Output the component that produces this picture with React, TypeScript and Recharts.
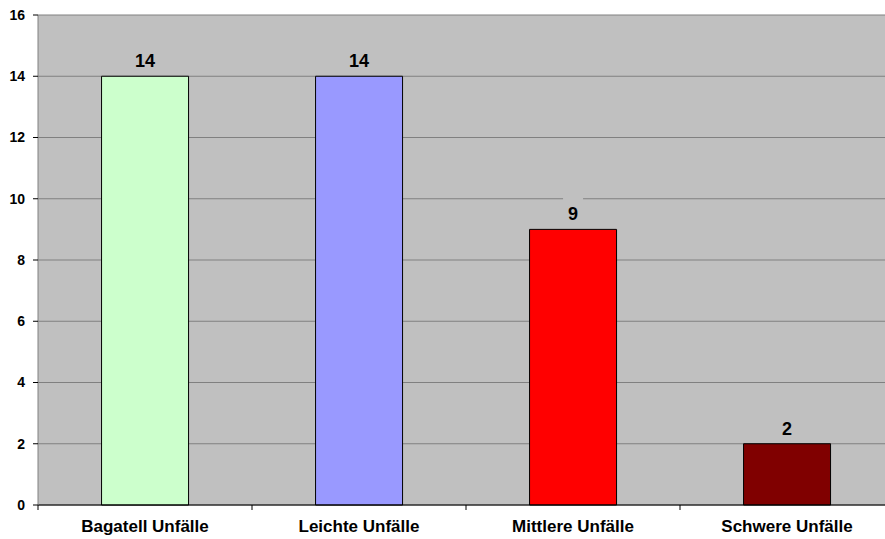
import { BarChart, Bar, XAxis, YAxis, CartesianGrid, Cell, LabelList } from "recharts";

const categories = ["Bagatell Unfälle", "Leichte Unfälle", "Mittlere Unfälle", "Schwere Unfälle"];
const counts = [14, 14, 9, 2];
const colors = ["#CCFFCC", "#9999FF", "#FF0000", "#800000"];
const yTicks = [0, 2, 4, 6, 8, 10, 12, 14, 16];

const data = categories.map((name, i) => ({ name, value: counts[i] }));

const FONT = "Arial, 'Liberation Sans', sans-serif";
const WIDTH = 885;
const HEIGHT = 539;
// plot area runs a little past the right edge of the canvas
const MARGIN = { top: 15, right: -9, left: 0, bottom: 0 };
const Y_WIDTH = 38;

// category step, used to put x tick marks on the band edges like Excel does
const step = (WIDTH - MARGIN.left - MARGIN.right - Y_WIDTH) / categories.length;

function CategoryTick(props: any) {
  const { x, y, payload } = props;
  return (
    <g>
      <line x1={x - step / 2} x2={x - step / 2} y1={y - 8} y2={y - 3} stroke="#000" />
      <text x={x} y={y + 19} textAnchor="middle" fontFamily={FONT} fontWeight="bold" fontSize={17} fill="#000">
        {payload.value}
      </text>
    </g>
  );
}

function ValueLabel(props: any) {
  const { x, y, width, value } = props;
  const cx = x + width / 2;
  return (
    <g>
      <rect x={cx - 10} y={y - 32} width={20} height={28} fill="#C0C0C0" />
      <text x={cx} y={y - 9} textAnchor="middle" fontFamily={FONT} fontWeight="bold" fontSize={18} fill="#000">
        {value}
      </text>
    </g>
  );
}

export default function App() {
  return (
    <div style={{ position: "absolute", left: 0, top: 0, width: WIDTH, height: HEIGHT, background: "#fff", overflow: "hidden" }}>
      <BarChart width={WIDTH} height={HEIGHT} data={data} margin={MARGIN} barCategoryGap="29.7%">
        <CartesianGrid fill="#C0C0C0" stroke="#808080" vertical={false} />
        <XAxis
          dataKey="name"
          height={34}
          axisLine={{ stroke: "#000" }}
          tickLine={false}
          tick={<CategoryTick />}
          interval={0}
        />
        <YAxis
          width={Y_WIDTH}
          domain={[0, 16]}
          ticks={yTicks}
          interval={0}
          axisLine={{ stroke: "#808080" }}
          tickLine={{ stroke: "#000" }}
          tickSize={5}
          tickMargin={8}
          tick={{ fontFamily: FONT, fontWeight: "bold", fontSize: 14, fill: "#000" }}
        />
        <Bar dataKey="value" stroke="#000" strokeWidth={1} isAnimationActive={false}>
          {data.map((d, i) => (
            <Cell key={d.name} fill={colors[i]} />
          ))}
          <LabelList dataKey="value" content={<ValueLabel />} />
        </Bar>
      </BarChart>
    </div>
  );
}
